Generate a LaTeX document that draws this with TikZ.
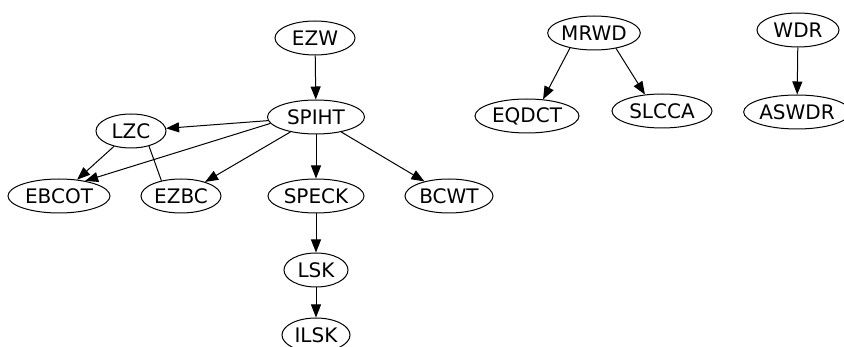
\documentclass[tikz,border=0pt]{standalone}
\usepackage{fontspec}
\setmainfont{DejaVu Sans}
\usetikzlibrary{shapes.geometric,arrows.meta}
\tikzset{
  gnode/.style={draw, ellipse, line width=1pt, inner sep=0pt,
    minimum height=34pt, minimum width=#1,
    font=\fontsize{20}{23}\selectfont},
  link/.style={draw, line width=1pt, -{Triangle[length=13pt,width=10pt]}},
  plainlink/.style={draw, line width=1pt}
}
\begin{document}
\begin{tikzpicture}[x=1pt,y=-1pt]
\useasboundingbox (0,0) rectangle (844,347);

% wavelet coder family tree
\node[gnode=80pt]  (ezw)   at (315,38)  {EZW};
\node[gnode=97pt]  (spiht) at (316,117) {SPIHT};
\node[gnode=70pt]  (lzc)   at (131,131) {LZC};
\node[gnode=102pt] (ebcot) at (59,196)  {EBCOT};
\node[gnode=80pt]  (ezbc)  at (181,196) {EZBC};
\node[gnode=96pt]  (speck) at (316,196) {SPECK};
\node[gnode=88pt]  (bcwt)  at (449,196) {BCWT};
\node[gnode=64pt]  (lsk)   at (316,270) {LSK};
\node[gnode=68pt]  (ilsk)  at (316,335) {ILSK};

\node[gnode=91pt]  (mrwd)  at (594,33)  {MRWD};
\node[gnode=104pt] (eqdct) at (527,116) {EQDCT};
\node[gnode=100pt] (slcca) at (662,111) {SLCCA};

\node[gnode=82pt]  (wdr)   at (798,30)  {WDR};
\node[gnode=100pt] (aswdr) at (797,112) {ASWDR};

% connectors
\draw[link] (ezw) -- (spiht);
\draw[link] (spiht) -- (lzc);
\draw[link] (spiht.188) -- (ebcot.30);
\draw[link] (spiht) -- (ezbc);
\draw[link] (spiht) -- (speck);
\draw[link] (spiht) -- (bcwt);
\draw[link] (lzc) -- (ebcot);
\draw[plainlink] (lzc.-40) -- (ezbc.142);
\draw[link] (speck) -- (lsk);
\draw[link] (lsk) -- (ilsk);

\draw[link] (mrwd.-148) -- (eqdct.46);
\draw[link] (mrwd.-35) -- (slcca.136);
\draw[link] (wdr) -- (aswdr);
\end{tikzpicture}
\end{document}
